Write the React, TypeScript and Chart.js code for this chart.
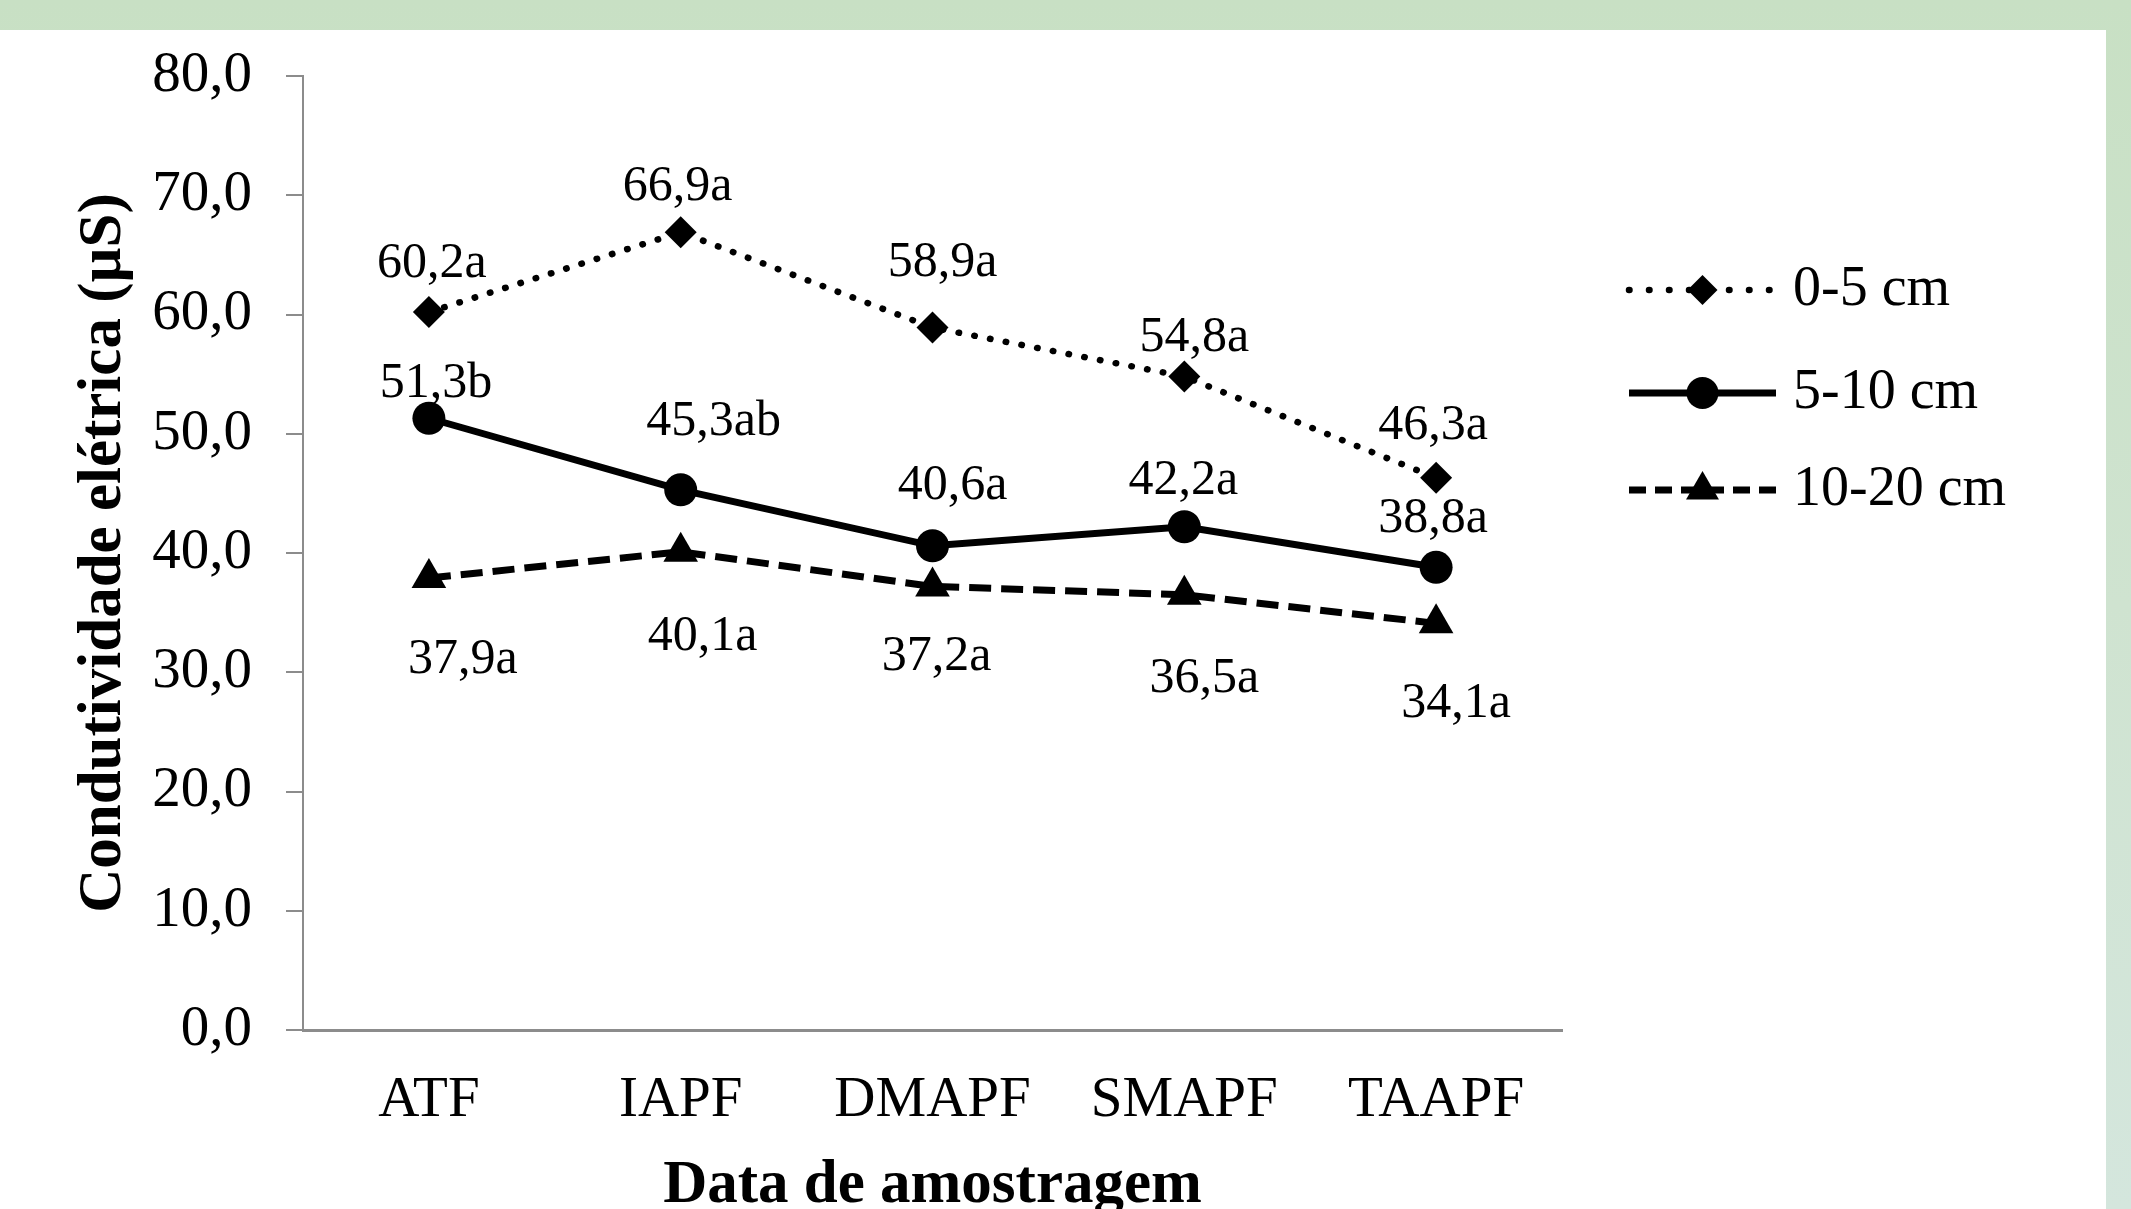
import React, { useEffect, useRef } from "react";
import { Chart, registerables } from "chart.js";

Chart.register(...registerables);

// ---- data ----
const categories = ["ATF", "IAPF", "DMAPF", "SMAPF", "TAAPF"];
const seriesNames = ["0-5 cm", "5-10 cm", "10-20 cm"];
const values0to5 = [60.2, 66.9, 58.9, 54.8, 46.3];
const values5to10 = [51.3, 45.3, 40.6, 42.2, 38.8];
const values10to20 = [37.9, 40.1, 37.2, 36.5, 34.1];
const letters0to5 = ["a", "a", "a", "a", "a"];
const letters5to10 = ["b", "ab", "a", "a", "a"];
const letters10to20 = ["a", "a", "a", "a", "a"];
const yMin = 0;
const yMax = 80;
const yStep = 10;
const yAxisTitle = "Condutividade elétrica (µS)";
const xAxisTitle = "Data de amostragem";

// ---- presentation (not data) ----
const FONT = "'Liberation Serif', 'Times New Roman', serif";
const labelOffsets = [
  [[3, -48], [-3, -45], [10, -65], [10, -39], [-3, -52]],
  [[7, -34], [33, -68], [20, -60], [-1, -46], [-3, -48]],
  [[34, 82], [22, 85], [4, 70], [20, 84], [20, 81]],
];

const fmt = (v: number) => v.toFixed(1).replace(".", ",");

function drawMarker(ctx: CanvasRenderingContext2D, style: string, x: number, y: number, r: number) {
  ctx.beginPath();
  if (style === "rectRot") {
    ctx.moveTo(x - r, y);
    ctx.lineTo(x, y - r);
    ctx.lineTo(x + r, y);
    ctx.lineTo(x, y + r);
    ctx.closePath();
  } else if (style === "circle") {
    ctx.arc(x, y, r, 0, Math.PI * 2);
  } else if (style === "triangle") {
    const a = (2 * Math.PI) / 3;
    ctx.moveTo(x, y - r);
    ctx.lineTo(x + Math.sin(a) * r, y - Math.cos(a) * r);
    ctx.lineTo(x + Math.sin(2 * a) * r, y - Math.cos(2 * a) * r);
    ctx.closePath();
  }
  ctx.fillStyle = "#000";
  ctx.fill();
}

const dataLabelPlugin = {
  id: "dataLabelPlugin",
  afterDatasetsDraw(chart: any) {
    const ctx = chart.ctx;
    ctx.save();
    ctx.font = `50px ${FONT}`;
    ctx.fillStyle = "#000";
    ctx.textAlign = "center";
    ctx.textBaseline = "middle";
    chart.data.datasets.forEach((ds: any, di: number) => {
      const meta = chart.getDatasetMeta(di);
      meta.data.forEach((pt: any, i: number) => {
        const off = labelOffsets[di][i];
        const text = fmt(ds.data[i]) + ds.letters[i];
        ctx.fillText(text, pt.x + off[0], pt.y + off[1]);
      });
    });
    ctx.restore();
  },
};

const legendPlugin = {
  id: "customLegend",
  afterDraw(chart: any) {
    const ctx = chart.ctx;
    const x0 = 1629;
    const x1 = 1776;
    const rowY = [290, 393, 490];
    ctx.save();
    chart.data.datasets.forEach((ds: any, di: number) => {
      const y = rowY[di];
      ctx.beginPath();
      ctx.setLineDash(ds.legendDash || []);
      ctx.lineCap = ds.borderCapStyle || "butt";
      ctx.lineWidth = ds.borderWidth;
      ctx.strokeStyle = "#000";
      ctx.moveTo(x0, y);
      ctx.lineTo(x1, y);
      ctx.stroke();
      ctx.setLineDash([]);
      drawMarker(ctx, ds.pointStyle, (x0 + x1) / 2, y, ds.legendRadius);
      ctx.font = `56px ${FONT}`;
      ctx.fillStyle = "#000";
      ctx.textAlign = "left";
      ctx.textBaseline = "middle";
      ctx.fillText(ds.label, 1793, y);
    });
    ctx.restore();
  },
};

export default function App() {
  const canvasRef = useRef<HTMLCanvasElement | null>(null);

  useEffect(() => {
    document.body.style.margin = "0";
    const canvas = canvasRef.current;
    if (!canvas) return;
    const chart = new Chart(canvas, {
      type: "line",
      data: {
        labels: categories,
        datasets: [
          {
            label: seriesNames[0],
            data: values0to5,
            letters: letters0to5,
            borderColor: "#000",
            backgroundColor: "#000",
            borderWidth: 6.5,
            borderDash: [0.5, 15.5],
            legendDash: [0.5, 19.5],
            borderCapStyle: "round",
            pointStyle: "rectRot",
            pointRadius: 16,
            legendRadius: 15,
            pointBackgroundColor: "#000",
            pointBorderWidth: 0,
            fill: false,
            tension: 0,
          },
          {
            label: seriesNames[1],
            data: values5to10,
            letters: letters5to10,
            borderColor: "#000",
            backgroundColor: "#000",
            borderWidth: 7,
            borderDash: [],
            legendDash: [],
            borderCapStyle: "butt",
            pointStyle: "circle",
            pointRadius: 16.5,
            legendRadius: 16,
            pointBackgroundColor: "#000",
            pointBorderWidth: 0,
            fill: false,
            tension: 0,
          },
          {
            label: seriesNames[2],
            data: values10to20,
            letters: letters10to20,
            borderColor: "#000",
            backgroundColor: "#000",
            borderWidth: 7,
            borderDash: [22, 10],
            legendDash: [17, 9],
            borderCapStyle: "butt",
            pointStyle: "triangle",
            pointRadius: 20,
            legendRadius: 19,
            pointBackgroundColor: "#000",
            pointBorderWidth: 0,
            fill: false,
            tension: 0,
          },
        ] as any,
      },
      options: {
        responsive: false,
        animation: false,
        events: [],
        layout: { padding: { left: 0, top: 76, right: 569, bottom: 0 } },
        plugins: {
          legend: { display: false },
          tooltip: { enabled: false },
        },
        scales: {
          x: {
            type: "category",
            offset: true,
            grid: { display: false, drawTicks: false },
            border: { display: true, color: "#8c8c8c", width: 3 },
            ticks: {
              color: "#000",
              font: { family: FONT, size: 57 },
              padding: 37,
              maxRotation: 0,
              autoSkip: false,
            },
            title: {
              display: true,
              text: xAxisTitle,
              color: "#000",
              font: { family: FONT, size: 61, weight: "bold" },
              padding: { top: 0, bottom: 17 },
            },
            afterFit: (s: any) => {
              s.height = 210;
            },
          },
          y: {
            min: yMin,
            max: yMax,
            grid: {
              drawOnChartArea: false,
              drawTicks: true,
              tickLength: 17,
              color: "#8c8c8c",
              lineWidth: 2,
            },
            border: { display: true, color: "#8c8c8c", width: 2 },
            ticks: {
              stepSize: yStep,
              color: "#000",
              font: { family: FONT, size: 57 },
              padding: 34,
              callback: (v: any) => fmt(Number(v)),
            },
            title: {
              display: true,
              text: yAxisTitle,
              color: "#000",
              font: { family: FONT, size: 61, weight: "bold" },
              padding: { top: 68, bottom: 0 },
            },
            afterFit: (s: any) => {
              s.width = 303;
            },
          },
        },
      } as any,
      plugins: [dataLabelPlugin, legendPlugin],
    });
    return () => chart.destroy();
  }, []);

  return (
    <div
      style={{
        position: "relative",
        width: 2131,
        height: 1209,
        overflow: "hidden",
        background: "linear-gradient(to bottom, #c8e0c4 0%, #cfe3d0 50%, #d4e6dd 100%)",
      }}
    >
      <div
        style={{
          position: "absolute",
          left: 0,
          top: 30,
          width: 2106,
          height: 1179,
          background: "#ffffff",
        }}
      />
      <canvas
        ref={canvasRef}
        width={2131}
        height={1240}
        style={{ position: "absolute", left: 0, top: 0, width: 2131, height: 1240 }}
      />
    </div>
  );
}
